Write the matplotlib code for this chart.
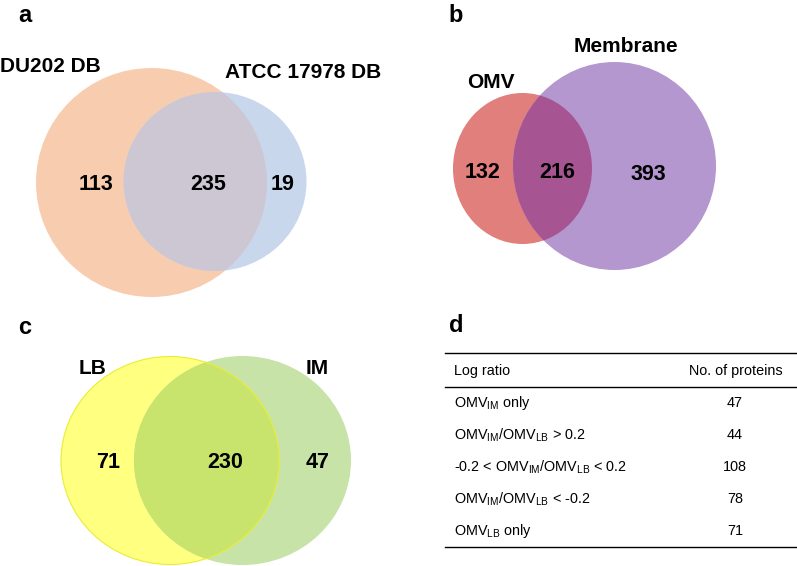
import matplotlib
matplotlib.use("Agg")
import matplotlib.pyplot as plt
from matplotlib.patches import Ellipse

plt.rcParams.update({
    "font.family": ["Liberation Sans", "DejaVu Sans"],
    "mathtext.fontset": "custom",
    "mathtext.rm": "Liberation Sans",
    "mathtext.it": "Liberation Sans",
    "mathtext.bf": "Liberation Sans:bold",
})

# dados dos diagramas de Venn (esquerda, intersecção, direita)
venn_a_nomes = ["DU202 DB", "ATCC 17978 DB"]
venn_a_contagens = [113, 235, 19]

venn_b_nomes = ["OMV", "Membrane"]
venn_b_contagens = [132, 216, 393]

venn_c_nomes = ["LB", "IM"]
venn_c_contagens = [71, 230, 47]

# tabela do painel d
tabela_cabecalho = ["Log ratio", "No. of proteins"]
tabela_razao = [
    r"OMV$_{\mathrm{IM}}$ only",
    r"OMV$_{\mathrm{IM}}$/OMV$_{\mathrm{LB}}$ > 0.2",
    r"-0.2 < OMV$_{\mathrm{IM}}$/OMV$_{\mathrm{LB}}$ < 0.2",
    r"OMV$_{\mathrm{IM}}$/OMV$_{\mathrm{LB}}$ < -0.2",
    r"OMV$_{\mathrm{LB}}$ only",
]
tabela_proteinas = [47, 44, 108, 78, 71]

fig = plt.figure(figsize=(7.97, 5.66), dpi=100)
ax = fig.add_axes([0, 0, 1, 1])
ax.set_xlim(0, 797)
ax.set_ylim(566, 0)
ax.axis("off")


def venn(ax, c1, r1, c2, r2, cor1, cor2, cor_inter, nomes, pos_nomes,
         contagens, pos_num, fs_nome=15, borda1=None):
    e1 = Ellipse(c1, 2 * r1[0], 2 * r1[1], facecolor=cor1, edgecolor="none", zorder=1)
    e2 = Ellipse(c2, 2 * r2[0], 2 * r2[1], facecolor=cor2, edgecolor="none", zorder=1)
    ax.add_patch(e1)
    ax.add_patch(e2)
    # intersecção desenhada por cima, recortada pelo primeiro círculo
    clip = Ellipse(c1, 2 * r1[0], 2 * r1[1], facecolor="none", edgecolor="none")
    ax.add_patch(clip)
    inter = Ellipse(c2, 2 * r2[0], 2 * r2[1], facecolor=cor_inter, edgecolor="none", zorder=2)
    ax.add_patch(inter)
    inter.set_clip_path(clip)
    if borda1:
        ax.add_patch(Ellipse(c1, 2 * r1[0], 2 * r1[1], facecolor="none",
                             edgecolor=borda1, linewidth=0.8, zorder=3))
    for nome, (x, y) in zip(nomes, pos_nomes):
        ax.text(x, y, nome, ha="center", va="center", fontsize=fs_nome,
                fontweight="bold", zorder=5)
    for val, (x, y) in zip(contagens, pos_num):
        ax.text(x, y, str(val), ha="center", va="center", fontsize=15.5,
                fontweight="bold", zorder=5)


# painel a
venn(ax, (151.5, 182.5), (115.5, 114.5), (215, 181.5), (91.5, 89.5),
     "#F8CDAF", "#C9D7EC", "#CCC7D3",
     venn_a_nomes, [(50, 67), (303, 72)],
     venn_a_contagens, [(96, 185), (208, 185), (283, 185)])

# painel b
venn(ax, (522.5, 168.5), (69.5, 75.5), (614.5, 166), (101.5, 104),
     "#E07F7C", "#B497CF", "#A75592",
     venn_b_nomes, [(491, 83), (626, 46)],
     venn_b_contagens, [(483, 173), (557, 173), (648, 174)])

# painel c
venn(ax, (170, 460.5), (109, 104), (242.5, 460.5), (108.5, 104.5),
     "#FFFF80", "#C7E3A8", "#C8E46C",
     venn_c_nomes, [(93, 368), (317, 368)],
     venn_c_contagens, [(108, 462), (225, 462), (318, 462)],
     borda1="#E9EE30")

# letras dos painéis
for letra, (x, y) in zip("abcd", [(24.5, 16), (456, 15), (25, 327), (456, 325)]):
    ax.text(x, y, letra, ha="center", va="center", fontsize=17, fontweight="bold")

# painel d - tabela
x0, x1 = 445, 797
for y in [353, 387, 547]:
    ax.plot([x0, x1], [y, y], color="black", lw=1.0)
ax.text(454, 371, tabela_cabecalho[0], ha="left", va="center", fontsize=10.4)
ax.text(736, 371, tabela_cabecalho[1], ha="center", va="center", fontsize=10.4)
linhas_y = [403, 435, 467, 499, 531]
for rotulo, n, y in zip(tabela_razao, tabela_proteinas, linhas_y):
    ax.text(454, y, rotulo, ha="left", va="center", fontsize=10.4)
    ax.text(735, y, str(n), ha="center", va="center", fontsize=10.4)

fig.savefig("out.png", dpi=100)
